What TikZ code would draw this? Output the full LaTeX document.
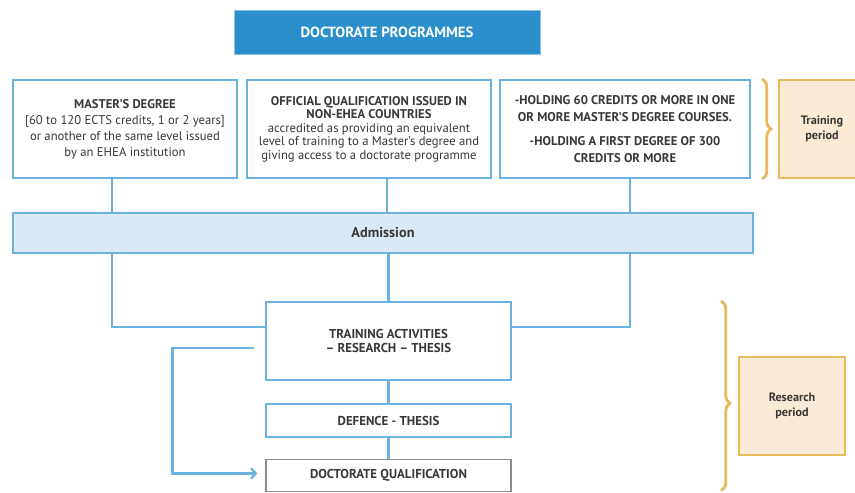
\documentclass[tikz,border=0pt]{standalone}
\usepackage{fontspec}
\setmainfont{PT Sans}
\usepackage{tikz}
\usetikzlibrary{arrows.meta, positioning, calc, decorations.pathreplacing}
\definecolor{ProgBlue}{HTML}{2A8FCB}
\definecolor{LineBlue}{HTML}{6AB2E0}
\definecolor{BarBlue}{HTML}{DCEAF6}
\definecolor{PeriodOrange}{HTML}{E9B95E}
\definecolor{PeriodFill}{HTML}{FBEBD6}
\definecolor{TextGrey}{HTML}{383838}
\definecolor{QualGrey}{HTML}{8C8C8C}
\tikzset{
  % Box styles
  titlebox/.style={rectangle, draw=LineBlue!80, line width=0.8pt, fill=ProgBlue, text=white, minimum width=9.18cm, minimum height=1.32cm, font=\fontsize{12.6}{14}\selectfont\bfseries, align=center},
  accessbox/.style={rectangle, draw=LineBlue, line width=1.2pt, fill=white, text=TextGrey, minimum height=2.94cm, font=\fontsize{10.8}{13.6}\selectfont, align=center, inner sep=2pt},
  admissionbar/.style={rectangle, draw=LineBlue, line width=1.2pt, fill=BarBlue, text=TextGrey, minimum width=22.2cm, minimum height=1.2cm, font=\fontsize{12.2}{14}\selectfont\bfseries, align=center},
  stepbox/.style={rectangle, draw=LineBlue, line width=1.2pt, fill=white, text=TextGrey, minimum width=7.35cm, font=\fontsize{11}{12}\selectfont\bfseries, align=center},
  finalbox/.style={stepbox, draw=QualGrey},
  periodbox/.style={rectangle, draw=PeriodOrange, line width=1.2pt, fill=PeriodFill, text=TextGrey, minimum height=2.94cm, font=\fontsize{10.4}{13}\selectfont\bfseries, align=center},
  % Connector styles
  link/.style={draw=LineBlue, line width=2.4pt},
  looparrow/.style={link, -{Straight Barb[length=4pt, width=9pt, line width=2pt]}},
  periodbrace/.style={draw=PeriodOrange, line width=2.4pt, line cap=round, decorate, decoration={brace, amplitude=7pt}}
}

\begin{document}
\begin{tikzpicture}[x=0.03cm, y=-0.03cm]
  \useasboundingbox (0,0) rectangle (855,492);

  % Title
  \node[titlebox] (title) at (387,32) {DOCTORATE PROGRAMMES};

  % Access routes
  \node[accessbox, minimum width=6.72cm] (master) at (125,129)
    {\textbf{MASTER’S DEGREE}\\{[60 to 120 ECTS credits, 1 or 2 years]}\\or another of the same level issued\\by an EHEA institution};
  \node[accessbox, minimum width=7.32cm, font=\fontsize{10.8}{11.6}\selectfont] (official) at (369,129)
    {\textbf{OFFICIAL QUALIFICATION ISSUED IN}\\\textbf{NON-EHEA COUNTRIES}\\accredited as providing an equivalent\\level of training to a Master’s degree and\\giving access to a doctorate programme};
  \node[accessbox, minimum width=7.5cm, font=\fontsize{10.8}{14.4}\selectfont\bfseries] (credits) at (625,129)
    {-HOLDING 60 CREDITS OR MORE IN ONE\\OR MORE MASTER’S DEGREE COURSES.\\[6pt]-HOLDING A FIRST DEGREE OF 300\\CREDITS OR MORE};
  \node[periodbox, minimum width=2.58cm] (training) at (822,129) {Training\\period};

  % Admission
  \node[admissionbar] (admission) at (383,233) {Admission};

  % Doctorate steps
  \node[stepbox, minimum height=2.34cm] (activities) at (388.5,341) {TRAINING ACTIVITIES\\– RESEARCH – THESIS};
  \node[stepbox, minimum height=0.99cm] (defence) at (388.5,420.5) {DEFENCE - THESIS};
  \node[finalbox, minimum height=0.96cm] (qualification) at (388.5,475.5) {DOCTORATE QUALIFICATION};
  \node[periodbox, minimum width=3.18cm] (research) at (792,406) {Research\\period};

  % Connections
  \draw[link] (master.south -| 112,0) -- (admission.north -| 112,0);
  \draw[link] (official.south -| 387,0) -- (admission.north -| 387,0);
  \draw[link] (credits.south -| 630,0) -- (admission.north -| 630,0);
  \draw[link] (admission.south -| 112,0) |- (activities.west |- 0,327);
  \draw[link] (admission.south -| activities.north) -- (activities.north);
  \draw[link] (admission.south -| 630,0) |- (activities.east |- 0,327);
  \draw[link] (activities) -- (defence);
  \draw[link] (defence) -- (qualification);

  % Direct route
  \coordinate (loopstart) at ($(activities.west)+(-11,7)$);
  \coordinate (loopend) at ($(qualification.west)+(-8,-2)$);
  \draw[looparrow] (loopstart) -- ++(-82,0) |- (loopend);

  % Periods
  \draw[periodbrace] ($(credits.north east)+(12,0)$) -- ($(credits.south east)+(12,0)$);
  \draw[periodbrace, decoration={brace, amplitude=7pt, aspect=0.54}] ($(activities.north east)+(210,0)$) -- ($(qualification.south east)+(210,-2)$);
\end{tikzpicture}
\end{document}
